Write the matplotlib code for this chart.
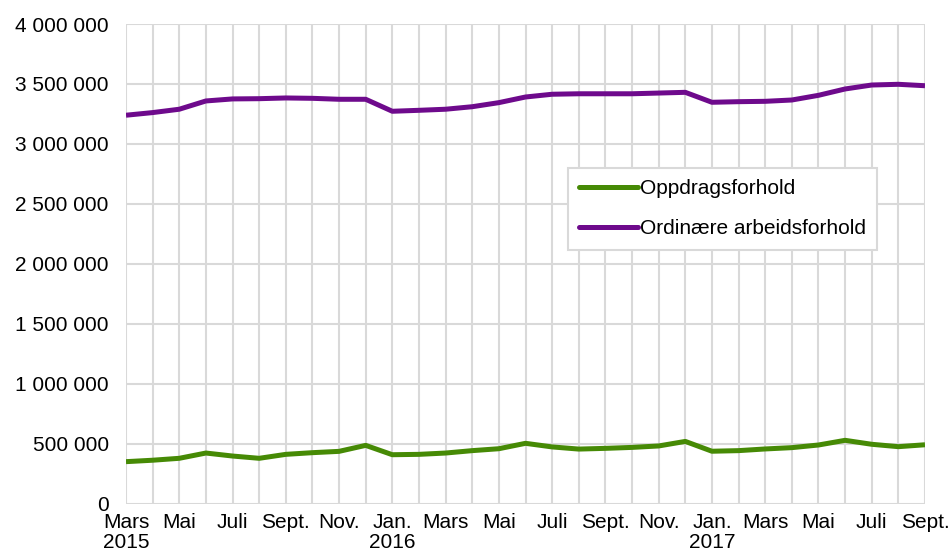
import matplotlib
matplotlib.use("Agg")
import matplotlib.pyplot as plt
from matplotlib.ticker import FuncFormatter, MultipleLocator

months = ["Mars 2015", "Apr 2015", "Mai 2015", "Jun 2015", "Jul 2015", "Aug 2015", "Sep 2015",
          "Okt 2015", "Nov 2015", "Des 2015", "Jan 2016", "Feb 2016", "Mars 2016", "Apr 2016",
          "Mai 2016", "Jun 2016", "Jul 2016", "Aug 2016", "Sep 2016", "Okt 2016", "Nov 2016",
          "Des 2016", "Jan 2017", "Feb 2017", "Mars 2017", "Apr 2017", "Mai 2017", "Jun 2017",
          "Jul 2017", "Aug 2017", "Sep 2017"]

oppdrag = [349000, 361000, 377000, 421000, 396000, 377000, 410000, 424000, 435000, 485000,
           407000, 410000, 421000, 441000, 457000, 502000, 472000, 454000, 460000, 468000,
           480000, 518000, 436000, 441000, 455000, 466000, 488000, 527000, 494000, 474000, 490000]

ordinaere = [3239000, 3261000, 3289000, 3358000, 3375000, 3377000, 3383000, 3380000, 3372000,
             3372000, 3272000, 3280000, 3289000, 3310000, 3344000, 3391000, 3414000, 3418000,
             3418000, 3418000, 3424000, 3430000, 3347000, 3352000, 3355000, 3366000, 3405000,
             3458000, 3491000, 3497000, 3485000]

tick_labels = ["Mars\n2015", "Mai", "Juli", "Sept.", "Nov.", "Jan.\n2016", "Mars", "Mai",
               "Juli", "Sept.", "Nov.", "Jan.\n2017", "Mars", "Mai", "Juli", "Sept."]

series_names = ["Oppdragsforhold", "Ordinære arbeidsforhold"]
colors = ["#468A05", "#6E0A8C"]

plt.rcParams['font.family'] = ['Liberation Sans', 'DejaVu Sans']
FS = 15

fig = plt.figure(figsize=(9.48, 5.53), dpi=100)
ax = fig.add_axes([126/948, 1 - 503.5/553, (925-126)/948, (503.5-24)/553])

x = list(range(len(months)))
ax.plot(x, oppdrag, color=colors[0], lw=3.6, label=series_names[0], solid_capstyle='butt')
ax.plot(x, ordinaere, color=colors[1], lw=3.6, label=series_names[1], solid_capstyle='butt')

ax.set_xlim(0, len(months) - 1)
ax.set_ylim(0, 4000000)
ax.set_xticks(list(range(0, len(months), 2)))
ax.set_xticklabels(tick_labels)
ax.set_xticks(x, minor=True)
ax.yaxis.set_major_locator(MultipleLocator(500000))
ax.yaxis.set_major_formatter(FuncFormatter(lambda v, p: f"{int(v):,}".replace(",", " ")))

ax.grid(True, which='both', color='#D9D9D9', lw=1.5)
ax.set_axisbelow(True)
for s in ax.spines.values():
    s.set_visible(False)
ax.tick_params(which='both', length=0)
ax.tick_params(axis='y', pad=12.5, labelsize=FS)
ax.tick_params(axis='x', pad=6.5, labelsize=FS)
for lbl in ax.get_xticklabels():
    lbl.set_linespacing(1.1)

leg = ax.legend(loc='upper left', bbox_to_anchor=(0.553, 0.70), fontsize=FS,
                frameon=True, fancybox=False, edgecolor='#D9D9D9', framealpha=1,
                handlelength=2.8, handletextpad=0.1, borderpad=0.55, labelspacing=1.0,
                borderaxespad=0)
leg.get_frame().set_linewidth(1.5)
for h in leg.get_lines():
    h.set_solid_capstyle('round')

fig.savefig("out.png", dpi=100)
